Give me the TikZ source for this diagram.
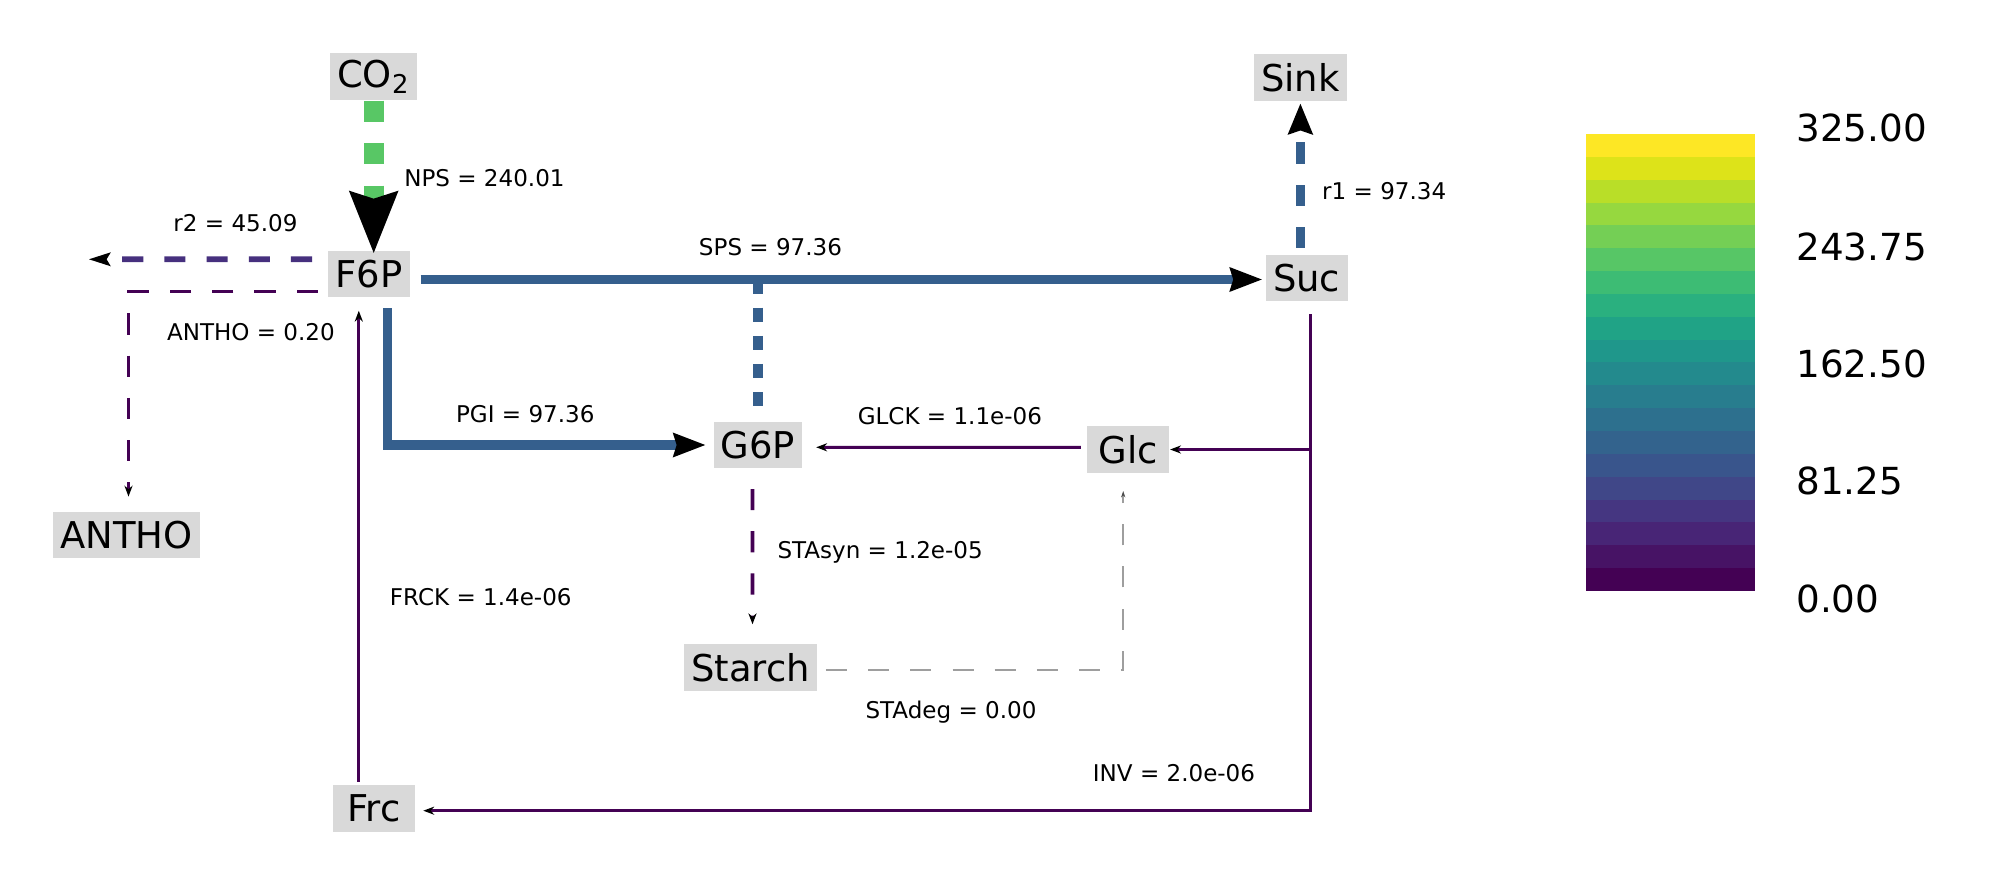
\documentclass[tikz,border=0pt]{standalone}
\usepackage{fontspec}
\setmainfont{DejaVu Sans}
\usepackage{xcolor}
\definecolor{boxgray}{HTML}{D9D9D9}
\definecolor{fluxlow}{HTML}{440154}
\definecolor{fluxrtwo}{HTML}{46307E}
\definecolor{fluxmid}{HTML}{355F8D}
\definecolor{fluxnps}{HTML}{58C765}
\definecolor{fluxzero}{HTML}{9E9E9E}
\usetikzlibrary{positioning,arrows.meta,calc}

\begin{document}
\begin{tikzpicture}[x=0.01cm,y=-0.01cm,font=\fontsize{6.55pt}{8pt}\selectfont,
  metab/.style={fill=boxgray,inner xsep=0.07cm,inner ysep=0pt,minimum width=0.82cm,minimum height=0.466cm,font=\fontsize{10.5pt}{12pt}\selectfont},
  fluxlbl/.style={inner sep=0pt},
  cbarlbl/.style={inner sep=0pt,anchor=base west,font=\fontsize{10.6pt}{12pt}\selectfont},
  longdash/.style={dash pattern=on 6pt off 6pt},
  smalltip/.style={-{Stealth[length=3.1pt,width=2.3pt,color=black]}},
  bluetip/.style={-{Stealth[length=9.1pt,width=6.5pt,inset=0.8pt,color=black]}}]
\useasboundingbox (0,0) rectangle (1993,885);
\fill[white] (0,0) rectangle (1993,885);

% Metabolites
\node[metab] (CO2) at (373.7,76.5) {CO\textsubscript{2}};
\node[metab] (F6P) at (369.2,274) {F6P};
\node[metab] (Sink) at (1300.4,77.3) {Sink};
\node[metab] (Suc) at (1306.7,278) {Suc};
\node[metab] (ANTHO) at (126.5,535) {ANTHO};
\node[metab] (G6P) at (757.8,445) {G6P};
\node[metab] (Glc) at (1128.4,449.5) {Glc};
\node[metab] (Starch) at (750.7,667.3) {Starch};
\node[metab] (Frc) at (374,808.3) {Frc};

% NPS (largest flux)
\draw[fluxnps,line width=5.58pt,dash pattern=on 6pt off 6.1pt,shorten >=-0.04cm,
  -{Stealth[length=17.4pt,width=13pt,inset=1.7pt,color=black]}] (CO2.south) -- (CO2.south |- F6P.north);

% r2 and ANTHO leave F6P to the left
\coordinate (r2end) at (88.6,259.3);
\draw[fluxrtwo,line width=1.62pt,longdash,-{Stealth[length=6.1pt,width=3.7pt,inset=1pt,color=black]}]
  ($(F6P.west)+(-15.4,-14.7)$) -- (r2end);
\draw[fluxlow,line width=0.95pt,longdash,smalltip] ($(F6P.west)+(-9.7,17.7)$) -| ($(ANTHO.north)+(2,-14.4)$);

% SPS, its dashed branch, r1
\coordinate (spsstart) at ($(F6P.east)+(9.6,5.5)$);
\draw[fluxmid,line width=2.73pt,bluetip,shorten >=0.025cm] (spsstart) -- (spsstart -| Suc.west);
\draw[fluxmid,line width=2.73pt,dash pattern=on 4pt off 4pt] (spsstart -| G6P.north) -- ($(G6P.north)+(0,-15)$);
\draw[fluxmid,line width=2.73pt,longdash,shorten >=0.02cm,
  -{Stealth[length=8.7pt,width=6.8pt,inset=1pt,color=black]}] ($(Sink.south |- Suc.north)+(0,-6)$) -- (Sink.south);

% PGI
\draw[fluxmid,line width=2.73pt,bluetip,shorten >=0.07cm] ($(F6P.south)+(18.1,10.4)$) |- (G6P.west);

% GLCK, STAsyn, STAdeg
\draw[fluxlow,line width=0.85pt,smalltip] ($(Glc.west)+(-5.7,-2.2)$) -- ($(G6P.east)+(13.5,2.3)$);
\draw[fluxlow,line width=1pt,longdash,smalltip] ($(G6P.south)+(-5.3,20)$) -- ($(Starch.north)+(1.8,-19)$);
\draw[fluxzero,line width=0.57pt,longdash,-{Stealth[length=1.8pt,width=1.2pt,color=black!70]}]
  ($(Starch.east)+(8.2,2.7)$) -| ($(Glc.south)+(-5.2,17.5)$);

% INV and FRCK
\coordinate (invtop) at ($(Suc.south)+(3.3,12.3)$);
\draw[fluxlow,line width=0.85pt,smalltip] (invtop) |- ($(Frc.east)+(7.6,2.4)$);
\draw[fluxlow,line width=0.85pt,smalltip] (invtop |- Glc.east) -- (Glc.east);
\coordinate (frcktop) at ($(F6P.south)+(-10.4,12.7)$);
\draw[fluxlow,line width=0.85pt,smalltip] ($(frcktop |- Frc.north)+(0,-2.3)$) -- (frcktop);

% Flux labels
\node[fluxlbl,anchor=base west] (lNPS) at (403.6,186.1) {NPS = 240.01};
\node[fluxlbl,anchor=base] (lR2) at (235.5,231.1) {r2 = 45.09};
\node[fluxlbl,anchor=base] (lANTHO) at (250.9,340.1) {ANTHO = 0.20};
\node[fluxlbl,anchor=base] (lSPS) at (770.5,255.1) {SPS = 97.36};
\node[fluxlbl,anchor=base west] (lR1) at (1321.5,199.4) {r1 = 97.34};
\node[fluxlbl,anchor=base] (lPGI) at (525.3,422.4) {PGI = 97.36};
\node[fluxlbl,anchor=base] (lGLCK) at (949.9,424.1) {GLCK = 1.1e-06};
\node[fluxlbl,anchor=base west] (lSTAsyn) at (776.8,558.4) {STAsyn = 1.2e-05};
\node[fluxlbl,anchor=base] (lSTAdeg) at (951,718.4) {STAdeg = 0.00};
\node[fluxlbl,anchor=base] (lINV) at (1174,781.7) {INV = 2.0e-06};
\node[fluxlbl,anchor=base] (lFRCK) at (480.8,605.1) {FRCK = 1.4e-06};

% Colour bar (viridis, 20 bands, bottom to top)
\foreach \c [count=\i from 0] in {440154,471365,482576,453681,404788,39558C,33638D,2D708E,287D8E,238A8D,
                                  1F978B,20A386,2AB07F,3DBC74,57C666,74CF55,96D83F,B9DE28,DDE319,FDE725} {
  \definecolor{band}{HTML}{\c}
  \fill[band] (1586,{591-22.85*\i}) rectangle (1755,{591-22.85*(\i+1)});
}
\foreach \v/\y [count=\k] in {325.00/141.8,243.75/260.2,162.50/377.5,81.25/494.5,0.00/612.5} {
  \node[cbarlbl] (tick\k) at (1795.7,\y) {\v};
}

\end{tikzpicture}
\end{document}
